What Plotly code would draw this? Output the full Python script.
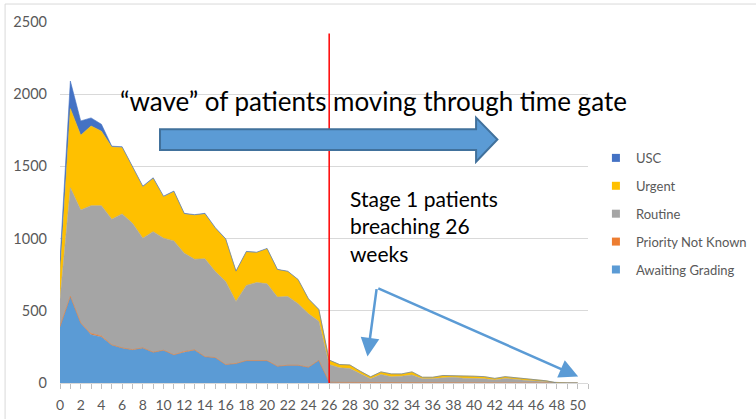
import plotly.graph_objects as go

# weeks waiting (x categories) and stacked series values
weeks = list(range(51))
x_tick_labels = [str(w) for w in range(0, 51, 2)]

awaiting_grading = [390, 600, 416, 335, 319, 264, 243, 231, 243, 213, 227, 195, 213, 229, 182, 176, 128,
                    135, 155, 155, 155, 116, 123, 123, 109, 157, 5, 4, 4, 3, 3, 2, 2, 2, 2, 1, 1, 1, 1, 1,
                    1, 0, 0, 0, 0, 0, 0, 0, 0, 0, 0]
priority_not_known = [0, 0, 0, 8, 6, 0, 0, 0, 0, 0, 0, 0, 5, 0, 0, 0, 0, 0, 0, 0, 0, 0, 0, 0, 0, 0,
                      0, 0, 0, 0, 0, 0, 0, 0, 0, 0, 0, 0, 0, 0, 0, 0, 0, 0, 0, 0, 0, 0, 0, 0, 0]
routine = [190, 752, 782, 885, 903, 870, 928, 875, 760, 835, 776, 789, 681, 628, 678, 596, 575, 430, 521,
           541, 532, 479, 476, 426, 371, 270, 123, 101, 96, 60, 26, 57, 41, 45, 54, 28, 28, 35, 39, 32, 30,
           29, 20, 31, 26, 17, 14, 9, 0, 0, 0]
urgent = [170, 548, 518, 552, 516, 501, 460, 391, 356, 369, 287, 341, 272, 305, 310, 300, 293, 207, 232,
          207, 242, 189, 173, 166, 101, 81, 30, 23, 25, 19, 14, 18, 20, 16, 21, 11, 11, 16, 12, 14, 16,
          15, 12, 13, 12, 12, 8, 6, 0, 0, 0]
usc = [100, 191, 99, 56, 48, 5, 5, 4, 4, 4, 4, 4, 4, 4, 5, 4, 3, 3, 3, 3, 3, 3, 2, 2, 2, 2, 1, 0, 0, 0,
       0, 0, 0, 0, 0, 0, 0, 0, 0, 0, 0, 0, 0, 0, 0, 0, 0, 0, 0, 0, 0]

series_names = ["Awaiting Grading", "Priority Not Known", "Routine", "Urgent", "USC"]
series_values = [awaiting_grading, priority_not_known, routine, urgent, usc]
series_colors = ["#5b9bd5", "#ed7d31", "#a5a5a5", "#ffc000", "#4472c4"]

gate_week = 26

FONT = "Lato"
GREY = "#595959"

fig = go.Figure()

# stacked areas (bottom to top)
for name, vals, col in zip(series_names, series_values, series_colors):
    fig.add_trace(
        go.Scatter(
            x=weeks,
            y=vals,
            name=name,
            mode="lines",
            stackgroup="one",
            line=dict(color=col, width=0.6),
            fillcolor=col,
            showlegend=False,
        )
    )

# legend entries as square markers, top to bottom
for name, col in zip(series_names[::-1], series_colors[::-1]):
    fig.add_trace(
        go.Scatter(
            x=[None],
            y=[None],
            name=name,
            mode="markers",
            marker=dict(symbol="square", size=8, color=col),
            legendgroup=name,
        )
    )

shapes = []
# chart border (top and left edges visible)
shapes.append(
    dict(type="rect", xref="paper", yref="paper", x0=-0.104, x1=1.4, y0=-0.2, y1=1.0498,
         line=dict(color="#d9d9d9", width=1), layer="below")
)
# 26 week time gate
shapes.append(
    dict(type="line", xref="x", yref="y", x0=gate_week, x1=gate_week, y0=0, y1=2420,
         line=dict(color="#ff0000", width=1.5))
)
# block arrow
shapes.append(
    dict(
        type="path",
        xref="x",
        yref="y",
        path="M 9.66,1758 L 40.19,1758 L 40.19,1838 L 42.25,1686 L 40.19,1532 L 40.19,1613 L 9.66,1613 Z",
        fillcolor="#5b9bd5",
        line=dict(color="#41719c", width=2),
    )
)

notes = []
notes.append(
    dict(text=str(gate_week), x=25.5, y=2538, xref="x", yref="y", showarrow=False,
         font=dict(family=FONT, size=17, color="black"))
)
notes.append(
    dict(text="\u201cwave\u201d of patients moving through time gate", x=5.6, y=1951, xref="x", yref="y",
         xanchor="left", showarrow=False, font=dict(family=FONT, size=26, color="black"))
)
notes.append(
    dict(text="Stage 1 patients<br>breaching 26<br>weeks", x=27.8, y=1088, xref="x", yref="y",
         xanchor="left", align="left", showarrow=False, font=dict(family=FONT, size=21, color="black"))
)
for tip_x, tip_y in [(29.7, 183), (50.05, 45)]:
    notes.append(
        dict(text="", x=tip_x, y=tip_y, ax=30.6, ay=660, xref="x", yref="y", axref="x", ayref="y",
             showarrow=True, arrowhead=2, arrowsize=1.5, arrowwidth=2.5, arrowcolor="#5b9bd5")
    )

fig.update_layout(
    width=756,
    height=419,
    margin=dict(l=60, r=168, t=22, b=35.5, autoexpand=False),
    paper_bgcolor="white",
    plot_bgcolor="white",
    font=dict(family=FONT, size=13, color=GREY),
    shapes=shapes,
    annotations=notes,
    legend=dict(
        x=1.015,
        xanchor="left",
        y=0.665,
        yanchor="top",
        traceorder="grouped",
        tracegroupgap=8,
        font=dict(family=FONT, size=13, color=GREY),
        bgcolor="rgba(0,0,0,0)",
    ),
)

fig.update_xaxes(
    range=[0, 51],
    tickvals=[int(t) for t in x_tick_labels],
    ticktext=x_tick_labels,
    ticks="outside",
    ticklen=5,
    tickcolor="#bfbfbf",
    minor=dict(dtick=1, ticks="outside", ticklen=5, tickcolor="#bfbfbf"),
    showline=True,
    linecolor="#d9d9d9",
    showgrid=False,
    zeroline=False,
    tickfont=dict(size=14, color=GREY),
    ticklabelstandoff=4,
    automargin=False,
)
fig.update_yaxes(
    range=[0, 2500],
    dtick=500,
    showgrid=True,
    gridcolor="#d9d9d9",
    zeroline=False,
    showline=False,
    ticks="",
    tickfont=dict(size=14.5, color=GREY),
    ticklabelstandoff=12,
    automargin=False,
)

# drop the browser's default page margin so the figure fills the window exactly
fig.write_html(
    "out.html",
    config={"displayModeBar": False},
    post_script="document.body.style.margin='0px';",
)
